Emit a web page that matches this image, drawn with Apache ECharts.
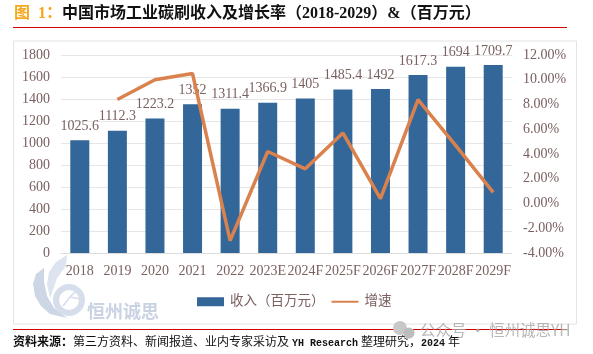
<!DOCTYPE html>
<html>
<head>
<meta charset="utf-8">
<style>
  html, body { margin: 0; padding: 0; background: #fff; }
  #main { width: 593px; height: 354px; }
</style>
<script src="https://cdn.jsdelivr.net/npm/echarts@6/dist/echarts.min.js"></script>
</head>
<body>
<div id="main"></div>
<script>
const years = ['2018', '2019', '2020', '2021', '2022', '2023E', '2024F', '2025F', '2026F', '2027F', '2028F', '2029F'];
const revenue = [1025.6, 1112.3, 1223.2, 1352, 1311.4, 1366.9, 1405, 1485.4, 1492, 1617.3, 1694, 1709.7];
const growth = [null, 8.4, 10.0, 10.5, -3.0, 4.2, 2.8, 5.7, 0.4, 8.4, 4.7, 0.9];

const serif = '"Liberation Serif", "Noto Sans CJK SC"';
const textColor = '#7b6060';
const plain = function (v) { return String(v); };

let myChart = echarts.init(document.getElementById('main'));

let option = {
  animation: false,
  backgroundColor: '#fff',
  grid: { left: 61, right: 81, top: 55, bottom: 101 },
  legend: {
    left: 197,
    top: 295,
    padding: 0,
    itemWidth: 27,
    itemHeight: 9,
    itemGap: 6,
    textStyle: { fontFamily: serif, fontSize: 13.5, color: textColor, padding: [0, 0, 0, 1] },
    data: [
      { name: '收入（百万元）', icon: 'rect' },
      // line series legend draws a marker too, hide it and keep the line
      { name: '增速', itemStyle: { opacity: 0 } }
    ]
  },
  xAxis: {
    type: 'category',
    data: years,
    axisTick: { show: false },
    axisLine: { lineStyle: { color: '#dcdcdc', width: 1 } },
    axisLabel: { fontFamily: serif, fontSize: 14, color: textColor, margin: 11, interval: 0 }
  },
  yAxis: [
    {
      type: 'value',
      min: 0,
      max: 1800,
      interval: 200,
      axisLine: { show: false },
      axisTick: { show: false },
      splitLine: { lineStyle: { color: '#e6e6e6', width: 1 } },
      axisLabel: { fontFamily: serif, fontSize: 14, color: textColor, margin: 11, formatter: plain }
    },
    {
      type: 'value',
      min: -4,
      max: 12,
      interval: 2,
      axisLine: { show: false },
      axisTick: { show: false },
      splitLine: { show: false },
      axisLabel: {
        fontFamily: serif,
        fontSize: 14,
        color: textColor,
        margin: 11,
        formatter: function (v) { return v.toFixed(2) + '%'; }
      }
    }
  ],
  series: [
    {
      name: '收入（百万元）',
      type: 'bar',
      data: revenue,
      barWidth: 19,
      itemStyle: { color: '#336699' },
      label: {
        show: true,
        position: 'top',
        distance: 7,
        fontFamily: serif,
        fontSize: 14,
        color: textColor,
        formatter: function (p) { return String(p.value); }
      }
    },
    {
      name: '增速',
      type: 'line',
      yAxisIndex: 1,
      data: growth,
      symbol: 'none',
      z: 5,
      lineStyle: { color: '#d9824e', width: 3.5 },
      itemStyle: { color: '#d9824e' }
    }
  ],
  graphic: [
    // outer chart frame
    { type: 'rect', z: -1, shape: { x: 13.5, y: 41, width: 563, height: 283 }, style: { fill: '#fff', stroke: '#e4e4e4', lineWidth: 1 } },
    // title + rules
    {
      type: 'text', left: 14, top: 6,
      style: {
        rich: {
          a: { fontFamily: serif, fontSize: 16, fontWeight: 'bold', fill: '#f5a81e' },
          b: { fontFamily: serif, fontSize: 16, fontWeight: 'bold', fill: '#111' }
        },
        text: '{a|图  1：}{b|中国市场工业碳刷收入及增长率（2018-2029）&（百万元）}'
      }
    },
    { type: 'line', shape: { x1: 13, y1: 27.5, x2: 567, y2: 27.5 }, style: { stroke: '#d40000', lineWidth: 1 } },
    { type: 'line', z: 20, shape: { x1: 13, y1: 329.5, x2: 567, y2: 329.5 }, style: { stroke: '#d40000', lineWidth: 1 } },
    // source
    {
      type: 'text', left: 13, top: 337,
      style: {
        rich: {
          a: { fontFamily: serif, fontSize: 12, fontWeight: 'bold', fill: '#111' },
          b: { fontFamily: serif, fontSize: 12, fill: '#111' },
          c: { fontFamily: '"Liberation Mono"', fontSize: 10, fontWeight: 'bold', fill: '#111' }
        },
        text: '{a|资料来源：}{b|第三方资料、新闻报道、业内专家采访及 }{c|YH Research}{b| 整理研究，}{c|2024}{b| 年}'
      }
    },
    // watermark left
    { type: 'circle', z: 10, shape: { cx: 69, cy: 300, r: 13 }, style: { fill: 'none', stroke: '#d5deea', lineWidth: 6 } },
    { type: 'polyline', z: 10, shape: { points: [[63, 306], [70, 297], [76, 291]] }, style: { fill: 'none', stroke: '#d5deea', lineWidth: 1.5 } },
    { type: 'polyline', z: 10, shape: { points: [[70, 297], [80, 299]] }, style: { fill: 'none', stroke: '#d5deea', lineWidth: 1.5 } },
    { type: 'polygon', z: 9, shape: { points: [[44, 268], [36, 274], [33, 284], [35, 296], [41, 306], [50, 314], [67, 318], [54, 308], [47, 296], [44, 282]] }, style: { fill: '#cdd6e4' } },
    { type: 'polygon', z: 9, shape: { points: [[67, 255], [56, 262], [49, 272], [47, 284], [50, 298], [53, 290], [57, 278], [66, 266]] }, style: { fill: '#dde4ef' } },
    { type: 'text', z: 10, left: 87, top: 302, style: { text: '恒州诚思', fontFamily: '"Noto Sans CJK SC"', fontWeight: 'bold', fontSize: 18, fill: '#c9d3e3' } },
    // watermark right
    { type: 'circle', z: 20, shape: { cx: 400, cy: 328, r: 7 }, style: { fill: '#c8c8c8' } },
    { type: 'circle', z: 20, shape: { cx: 409, cy: 333, r: 5.5 }, style: { fill: '#bdbdbd' } },
    { type: 'text', z: 20, left: 420, top: 322, style: { text: '公众号 · 恒州诚思YH', fontFamily: '"Noto Sans CJK SC"', fontSize: 15.5, fill: 'rgba(165,165,165,0.8)' } }
  ]
};

myChart.setOption(option);
</script>
</body>
</html>
